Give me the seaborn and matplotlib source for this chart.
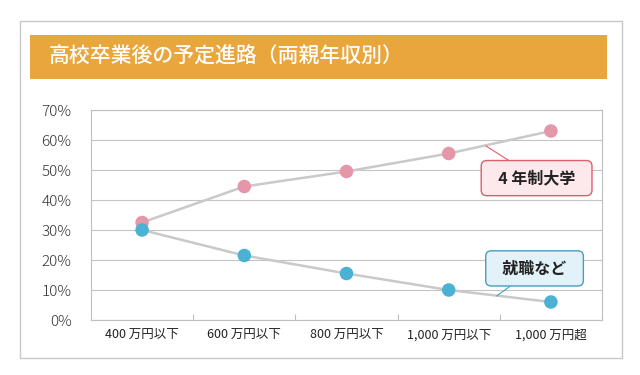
import pandas as pd
import matplotlib
matplotlib.use("Agg")
import matplotlib.pyplot as plt
import seaborn as sns
from matplotlib.patches import Rectangle

# =====================================================
# DATA
# =====================================================

title_text = "高校卒業後の予定進路（両親年収別）"
income_labels = ["400 万円以下", "600 万円以下", "800 万円以下", "1,000 万円以下", "1,000 万円超"]
series_names = ["4 年制大学", "就職など"]
univ_rate = [32.5, 44.5, 49.5, 55.5, 63.0]
job_rate = [30.0, 21.5, 15.5, 10.0, 6.0]
y_ticks = [0, 10, 20, 30, 40, 50, 60, 70]

series_colors = ["#e597aa", "#4bb2d3"]
box_fill = ["#fde8eb", "#e2f2f8"]
box_edge = ["#de5f6c", "#4a9cc0"]

df = pd.DataFrame({
    "pos": list(range(len(income_labels))) * 2,
    "rate": univ_rate + job_rate,
    "course": [series_names[0]] * len(univ_rate) + [series_names[1]] * len(job_rate),
})

# =====================================================
# STYLE
# =====================================================

sns.set_theme(style="white")
plt.rcParams["font.family"] = ["Noto Sans CJK JP", "DejaVu Sans"]

W, H = 640, 375
fig = plt.figure(figsize=(6.4, 3.75), dpi=100)

# outer frame + title banner
fig.patches.append(Rectangle((20 / W, 1 - 358 / H), 602 / W, 337 / H,
                             transform=fig.transFigure, fill=False,
                             ec="#c8c8c8", lw=1))
fig.patches.append(Rectangle((30 / W, 1 - 79 / H), 577 / W, 44 / H,
                             transform=fig.transFigure, fc="#e8a63d",
                             ec="none"))
fig.text(49 / W, 1 - 57 / H, title_text, color="white", fontsize=15,
         fontweight="medium", va="center", ha="left")

ax = fig.add_axes([91 / W, 1 - 320 / H, 511 / W, 210 / H])

# =====================================================
# PLOT
# =====================================================

sns.lineplot(
    data=df,
    x="pos",
    y="rate",
    units="course",
    estimator=None,
    color="#c9c9c9",
    lw=1.8,
    ax=ax,
    zorder=2
)

sns.scatterplot(
    data=df,
    x="pos",
    y="rate",
    hue="course",
    hue_order=series_names,
    palette=series_colors,
    s=95,
    edgecolor="none",
    legend=False,
    ax=ax,
    zorder=3
)

# =====================================================
# AXES
# =====================================================

ax.set_xlim(-0.5, len(income_labels) - 0.5)
ax.set_ylim(0, 70)
ax.set_xticks(range(len(income_labels)))
ax.set_xticklabels(income_labels)
ax.set_xticks([i + 0.5 for i in range(len(income_labels) - 1)], minor=True)
ax.set_yticks(y_ticks)
ax.set_yticklabels([f"{v}%" for v in y_ticks], fontweight="light")
ax.set_xlabel("")
ax.set_ylabel("")

ax.tick_params(axis="x", which="major", length=0, pad=6, labelsize=9,
               labelcolor="#222222")
ax.tick_params(axis="x", which="minor", direction="in", length=4,
               color="#bfbfbf", width=0.8, bottom=True)
ax.tick_params(axis="y", length=0, pad=14, labelsize=11,
               labelcolor="#333333")

ax.grid(axis="y", color="#c4c4c4", lw=0.8)
for s in ax.spines.values():
    s.set_color("#bfbfbf")
    s.set_linewidth(0.8)

# =====================================================
# CALLOUTS
# =====================================================

callouts = [
    (series_names[0], (3.365, 58.0), (3.86, 47.3)),
    (series_names[1], (3.47, 8.0), (3.84, 17.2)),
]
for i, (label, tip, center) in enumerate(callouts):
    ax.annotate(
        "  " + label + "  ",
        xy=tip,
        xytext=center,
        ha="center",
        va="center",
        fontsize=11.5,
        fontweight="bold",
        color="#222222",
        bbox=dict(boxstyle="round,pad=0.6,rounding_size=0.35",
                  fc=box_fill[i], ec=box_edge[i], lw=1),
        arrowprops=dict(arrowstyle="-", color=box_edge[i], lw=0.8,
                        shrinkA=0, shrinkB=0),
        zorder=4
    )

plt.savefig("out.png", dpi=100)
